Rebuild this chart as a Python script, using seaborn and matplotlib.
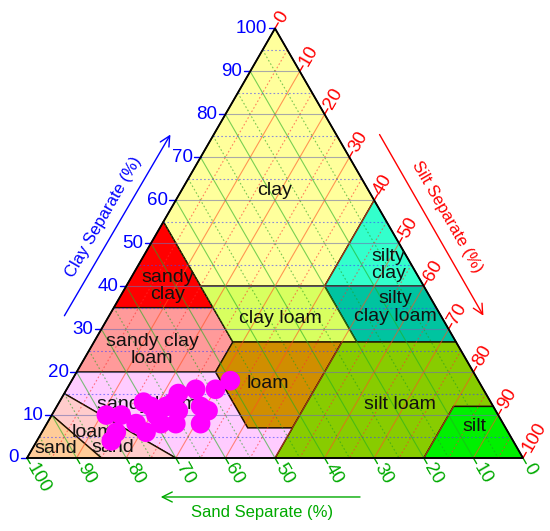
"""USDA soil texture triangle with sample points."""

import numpy as np
import matplotlib
matplotlib.use("Agg")
import matplotlib.pyplot as plt
from matplotlib.patches import Polygon
import pandas as pd
import seaborn as sns

sns.set_style("white")
plt.rcParams['font.family'] = ['Liberation Sans', 'DejaVu Sans']

# sample points (percent)
sand = [79, 76, 79, 81, 74, 73, 70, 69, 69, 66, 64, 64, 62, 58, 59, 58, 61, 54, 50, 66, 69]
silt = [11, 14, 15, 15, 18, 21, 17, 21, 23, 26, 25, 23, 23, 26, 29, 31, 31, 30, 32, 22, 19]
clay = [100 - a - s for a, s in zip(sand, silt)]

# texture classes: vertices as (sand, silt, clay)
classes = {
    "clay": [(0, 0, 100), (0, 40, 60), (20, 40, 40), (45, 15, 40), (45, 0, 55)],
    "silty clay": [(0, 40, 60), (0, 60, 40), (20, 40, 40)],
    "silty clay loam": [(0, 60, 40), (0, 73, 27), (20, 53, 27), (20, 40, 40)],
    "sandy clay": [(45, 0, 55), (65, 0, 35), (45, 20, 35), (45, 15, 40)],
    "sandy clay loam": [(65, 0, 35), (80, 0, 20), (52, 28, 20), (45, 28, 27), (45, 20, 35)],
    "clay loam": [(45, 15, 40), (45, 28, 27), (20, 53, 27), (20, 40, 40)],
    "loam": [(45, 28, 27), (23, 50, 27), (43, 50, 7), (52, 41, 7), (52, 28, 20)],
    "silt loam": [(23, 50, 27), (0, 73, 27), (0, 88, 12), (8, 80, 12), (20, 80, 0),
                  (50, 50, 0), (43, 50, 7)],
    "silt": [(0, 88, 12), (0, 100, 0), (20, 80, 0), (8, 80, 12)],
    "sandy loam": [(80, 0, 20), (52, 28, 20), (52, 41, 7), (43, 50, 7), (50, 50, 0),
                   (70, 30, 0), (85, 0, 15)],
    "loamy sand": [(85, 0, 15), (70, 30, 0), (85, 15, 0), (90, 0, 10)],
    "sand": [(90, 0, 10), (100, 0, 0), (85, 15, 0)],
}
class_colors = {
    "clay": "#FFFF9C", "silty clay": "#33FFCC", "silty clay loam": "#00C4A0",
    "sandy clay": "#FF0000", "sandy clay loam": "#FF9A9A", "clay loam": "#D8FF60",
    "loam": "#D08E00", "silt loam": "#88CC00", "silt": "#00F000",
    "sandy loam": "#FFCCFF", "loamy sand": "#FFCCCC", "sand": "#FFCC99",
}
class_labels = {
    "clay": ("clay", 50, 54.0), "silty clay": ("silty\nclay", 72.8, 38.9),
    "silty clay loam": ("silty\nclay loam", 74.2, 30.4),
    "sandy clay": ("sandy\nclay", 28.4, 34.7),
    "sandy clay loam": ("sandy clay\nloam", 25.2, 21.8),
    "clay loam": ("clay loam", 51.0, 28.2), "loam": ("loam", 48.6, 15.1),
    "silt loam": ("silt loam", 75.2, 10.7), "silt": ("silt", 90.3, 6.45),
    "sandy loam": ("sandy loam", 24.2, 10.7), "sand": ("sand", 5.85, 2.0),
}

ticks = list(range(0, 101, 10))
H = np.sqrt(3) / 2
FS_LAB = 14
FS_TICK = 13.5


def to_xy(sa, si, cl):
    return si + cl / 2.0, cl * H


fig = plt.figure(figsize=(5.5, 5.31), dpi=100)
ax = fig.add_axes([0, 0, 1, 1])
ax.axis("off")

for name, verts in classes.items():
    pts = [to_xy(*v) for v in verts]
    ax.add_patch(Polygon(pts, closed=True, facecolor=class_colors[name],
                         edgecolor="#201000", lw=1.0, zorder=1))

# grid lines
for v in range(5, 100, 5):
    solid = v % 10 == 0
    ls = "-" if solid else (0, (1.5, 2))
    # clay
    x0, y0 = to_xy(100 - v, 0, v)
    x1, y1 = to_xy(0, 100 - v, v)
    ax.plot([x0, x1], [y0, y1], ls=ls, lw=0.8,
            color="#7070B0" if solid else "#4040FF", alpha=0.6, zorder=2)
    # silt
    x0, y0 = to_xy(0, v, 100 - v)
    x1, y1 = to_xy(100 - v, v, 0)
    ax.plot([x0, x1], [y0, y1], ls=ls, lw=0.8,
            color="#FF5020" if solid else "#FF3030", alpha=0.6, zorder=2)
    # sand
    x0, y0 = to_xy(v, 0, 100 - v)
    x1, y1 = to_xy(v, 100 - v, 0)
    ax.plot([x0, x1], [y0, y1], ls=ls, lw=0.8,
            color="#20B020" if solid else "#20A020", alpha=0.6, zorder=2)

# outline
ax.plot([0, 100, 50, 0], [0, 0, 100 * H, 0], color="black", lw=1.3, zorder=3)

# class labels
for name, (txt, lx, ly) in class_labels.items():
    ax.text(lx, ly, txt, ha="center", va="center", fontsize=FS_LAB,
            linespacing=1.05, color="#111111", zorder=3)
ax.text(14.3, 5.24, "loamy", ha="center", va="center", fontsize=FS_LAB,
        color="#111111", zorder=3)
ax.text(17.3, 2.2, "sand", ha="center", va="center", fontsize=FS_LAB,
        color="#111111", zorder=3)

# axis ticks and labels
tl = 1.3
for t in ticks:
    # clay (left edge)
    x, y = to_xy(100 - t, 0, t)
    ax.plot([x - tl, x], [y, y], color="blue", lw=1, clip_on=False)
    ax.text(x - tl - 0.3, y, str(t), color="blue", ha="right", va="center",
            fontsize=FS_TICK)
    # silt (right edge)
    x, y = to_xy(0, t, 100 - t)
    dx, dy = 0.5, H
    ax.plot([x, x + tl * dx], [y, y + tl * dy], color="red", lw=1, clip_on=False)
    ax.text(x + 1.6 * dx, y + 1.6 * dy, str(t), color="red", ha="left",
            va="center", rotation=60, rotation_mode="anchor", fontsize=FS_TICK)
    # sand (bottom edge)
    x, y = to_xy(t, 100 - t, 0)
    dx, dy = 0.5, -H
    ax.plot([x, x + tl * dx], [y, y + tl * dy], color="#00AA00", lw=1,
            clip_on=False)
    ax.text(x + 1.6 * dx, y + 1.6 * dy, str(t), color="#00AA00", ha="left",
            va="center", rotation=-60, rotation_mode="anchor", fontsize=FS_TICK)

# axis titles with arrows
arrow = dict(arrowstyle="->", lw=1.0, mutation_scale=18)
ax.annotate("", xy=(29.2, 65.7), xytext=(7.26, 28.2),
            arrowprops=dict(arrow, color="blue"))
ax.text(15.5, 48.6, "Clay Separate (%)", color="blue", rotation=60,
        ha="center", va="center", fontsize=12)
ax.annotate("", xy=(92.3, 28.2), xytext=(70.8, 65.7),
            arrowprops=dict(arrow, color="red"))
ax.text(84.7, 48.6, "Silt Separate (%)", color="red", rotation=-60,
        ha="center", va="center", fontsize=12)
ax.annotate("", xy=(26.4, -7.86), xytext=(67.7, -7.86),
            arrowprops=dict(arrow, color="#00AA00"))
ax.text(47.4, -10.9, "Sand Separate (%)", color="#00AA00",
        ha="center", va="center", fontsize=12)

# samples
df = pd.DataFrame({"sand": sand, "silt": silt, "clay": clay})
df["x"], df["y"] = to_xy(df["sand"], df["silt"], df["clay"])
sns.scatterplot(data=df, x="x", y="y", ax=ax, color="#FF00FF", s=200,
                edgecolor="none", zorder=5, legend=False)

ax.set_xlim(-27 / 4.96, 523 / 4.96)
ax.set_ylim(-73 / 4.96, 458 / 4.96)
fig.savefig("out.png", dpi=100)
